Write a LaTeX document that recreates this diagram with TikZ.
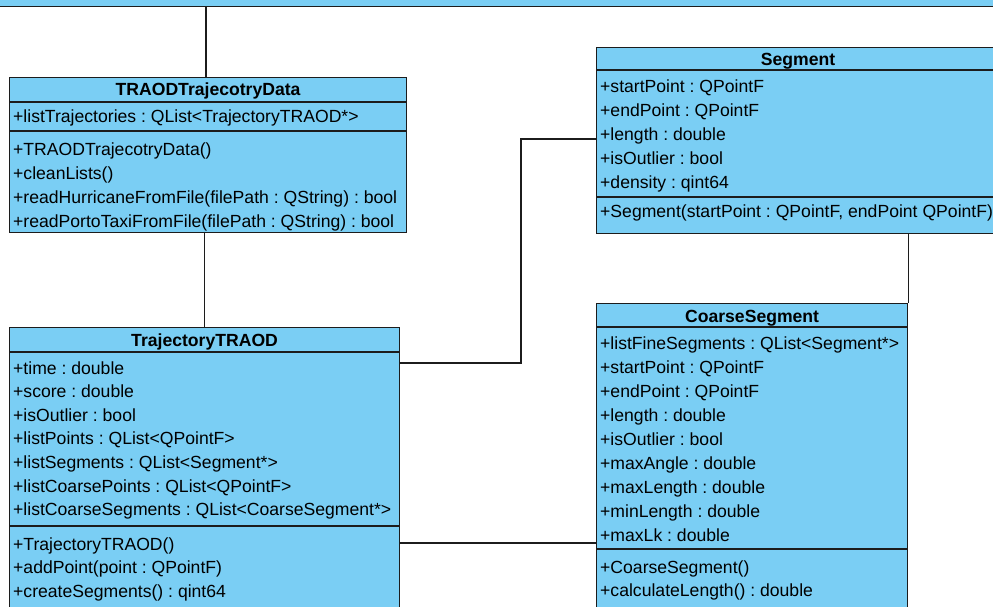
\documentclass[tikz,border=0pt]{standalone}
\usepackage{fontspec}
\setmainfont{Liberation Sans}
\usetikzlibrary{positioning}

\definecolor{classfill}{RGB}{122,206,244}
\definecolor{classline}{RGB}{28,28,28}

\tikzset{
    umlbox/.style={draw=classline, fill=classfill, line width=1.2pt, inner sep=0pt, anchor=north west},
    umltitle/.style={font=\fontsize{17.6}{20}\selectfont\bfseries, inner sep=0pt, anchor=base},
    umlrow/.style={font=\fontsize{17.6}{20}\selectfont, inner sep=0pt, anchor=base west},
    assoc/.style={draw=classline, line width=1.2pt},
}
% horizontal rule across a class box at height #2
\newcommand{\classrule}[2]{\draw[assoc] (#1.west |- 0,#2) -- (#1.east |- 0,#2);}
\frenchspacing

\begin{document}
\begin{tikzpicture}[x=1pt,y=-1pt]
    \useasboundingbox (0,0) rectangle (993,607);
    \clip (0,0) rectangle (993,607);

    % classes
    \node[umlbox, anchor=south west, minimum width=1030pt, minimum height=40pt] (top) at (-20,7) {};
    \node[umlbox, minimum width=397pt, minimum height=155pt] (data) at (9,77) {};
    \node[umlbox, minimum width=390pt, minimum height=300pt] (traj) at (9,327) {};
    \node[umlbox, minimum width=404pt, minimum height=186pt] (seg) at (596,47) {};
    \node[umlbox, minimum width=311pt, minimum height=320pt] (coarse) at (596,303) {};

    % TRAODTrajecotryData
    \node[umltitle] (data-t) at (data.north |- 0,96) {TRAODTrajecotryData};
    \classrule{data}{102}
    \node[umlrow] (data-a0) at (13,123) {+listTrajectories : QList<TrajectoryTRAOD*>};
    \classrule{data}{131}
    \foreach \txt [count=\i from 0] in {+TRAODTrajecotryData(), +cleanLists(),
        +readHurricaneFromFile(filePath : QString) : bool,
        +readPortoTaxiFromFile(filePath : QString) : bool}
        \node[umlrow] (data-m\i) at (13,{155+24*\i}) {\txt};

    % TrajectoryTRAOD
    \node[umltitle] (traj-t) at (traj.north |- 0,346) {TrajectoryTRAOD};
    \classrule{traj}{352}
    \foreach \txt [count=\i from 0] in {+time : double, +score : double, +isOutlier : bool,
        +listPoints : QList<QPointF>, +listSegments : QList<Segment*>,
        +listCoarsePoints : QList<QPointF>, +listCoarseSegments : QList<CoarseSegment*>}
        \node[umlrow] (traj-a\i) at (13,{374+23.6*\i}) {\txt};
    \classrule{traj}{526}
    \foreach \txt [count=\i from 0] in {+TrajectoryTRAOD(), +addPoint(point : QPointF),
        +createSegments() : qint64}
        \node[umlrow] (traj-m\i) at (13,{550+23.6*\i}) {\txt};

    % Segment
    \node[umltitle] (seg-t) at (798,66) {Segment};
    \classrule{seg}{70}
    \foreach \txt [count=\i from 0] in {+startPoint : QPointF, +endPoint : QPointF,
        +length : double, +isOutlier : bool, +density : qint64}
        \node[umlrow] (seg-a\i) at (600,{93+23.8*\i}) {\txt};
    \classrule{seg}{197}
    \node[umlrow] (seg-m0) at (600,217) {+Segment(startPoint : QPointF, endPoint QPointF)};

    % CoarseSegment
    \node[umltitle] (coarse-t) at (coarse.north |- 0,322) {CoarseSegment};
    \classrule{coarse}{327}
    \foreach \txt [count=\i from 0] in {+listFineSegments : QList<Segment*>, +startPoint : QPointF,
        +endPoint : QPointF, +length : double, +isOutlier : bool, +maxAngle : double,
        +maxLength : double, +minLength : double, +maxLk : double}
        \node[umlrow] (coarse-a\i) at (600,{349+24*\i}) {\txt};
    \classrule{coarse}{549}
    \foreach \txt [count=\i from 0] in {+CoarseSegment(), +calculateLength() : double}
        \node[umlrow] (coarse-m\i) at (600,{573+23.5*\i}) {\txt};

    % associations
    \draw[assoc] (top.south -| 206,0) -- (data.north -| 206,0);
    \draw[assoc] (data.south -| traj.north) -- (traj.north);
    \coordinate (trajout) at (399,363);
    \coordinate (segbend) at (521,139);
    \draw[assoc] (trajout) -| (segbend) -- (segbend -| seg.west);
    \coordinate (trajout2) at (399,543);
    \draw[assoc] (trajout2) -- (trajout2 -| coarse.west);
    \draw[assoc] (seg.south -| coarse.north east) -- (coarse.north east);
\end{tikzpicture}
\end{document}
